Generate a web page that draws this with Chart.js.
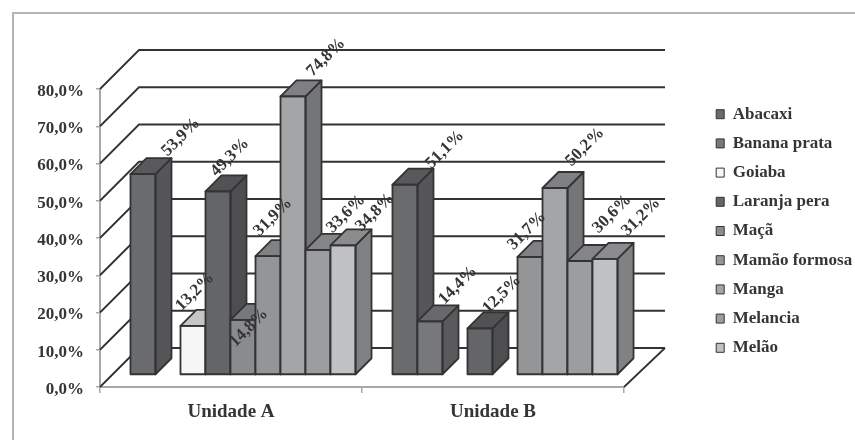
<!DOCTYPE html>
<html>
<head>
<meta charset="utf-8">
<style>
    html, body { margin: 0; padding: 0; background: #fff; }
    #wrap { width: 855px; height: 440px; position: relative; }
    #chart { filter: blur(0.4px); }
</style>
</head>
<body>
<div id="wrap"><canvas id="chart" width="855" height="440"></canvas></div>
<script src="https://cdn.jsdelivr.net/npm/chart.js@4"></script>
<script>
const units = ['Unidade A', 'Unidade B'];
const yTicks = [0, 10, 20, 30, 40, 50, 60, 70, 80];

const abacaxi = [53.9, 51.1];
const bananaPrata = [null, 14.4];
const goiaba = [13.2, null];
const laranjaPera = [49.3, 12.5];
const maca = [14.8, null];
const mamaoFormosa = [31.9, 31.7];
const manga = [74.8, 50.2];
const melancia = [33.6, 30.6];
const melao = [34.8, 31.2];

const fruits = [
    { label: 'Abacaxi', data: abacaxi, front: '#6a6b6d', side: '#565658', top: '#59595b' },
    { label: 'Banana prata', data: bananaPrata, front: '#77787a', side: '#5a5a5c', top: '#69696b' },
    { label: 'Goiaba', data: goiaba, front: '#f6f6f6', side: '#9a9a9a', top: '#c6c6c6' },
    { label: 'Laranja pera', data: laranjaPera, front: '#646567', side: '#4e4e50', top: '#525254' },
    { label: 'Maçã', data: maca, front: '#8a8b8d', side: '#6d6e70', top: '#77787a' },
    { label: 'Mamão formosa', data: mamaoFormosa, front: '#949597', side: '#747577', top: '#808183' },
    { label: 'Manga', data: manga, front: '#a4a5a7', side: '#747577', top: '#7f8082' },
    { label: 'Melancia', data: melancia, front: '#9c9d9f', side: '#767779', top: '#848587' },
    { label: 'Melão', data: melao, front: '#c0c1c3', side: '#808183', top: '#8b8c8e' }
];

// hand placed data labels, dx/dy from the top of each bar (per unit)
const labelNudge = [
    [[38, -37], [40, -35]],
    [[0, 0], [28, -36]],
    [[2, -34], [0, 0]],
    [[12, -34], [22, -34]],
    [[6, 8], [0, 0]],
    [[5, -39], [-3, -26]],
    [[33, -39], [30, -41]],
    [[28, -36], [32, -47]],
    [[32, -33], [36, -42]]
];

const INK = '#333335';
const AXIS = '#a8a8a8';
const TEXT = '#353537';
const SERIF = '"Liberation Serif", serif';
const WALL = 39;     // depth of the floor and walls
const NEAR = 12;     // where the bars start inside the floor
const BAR_DEPTH = 16;

function drawBarFaces(ctx, bar, ds) {
    const d = BAR_DEPTH;
    const l = bar.x - bar.width / 2;
    const r = bar.x + bar.width / 2;
    const t = bar.y;
    const b = bar.base;
    ctx.fillStyle = ds.sideColor;
    ctx.beginPath();
    ctx.moveTo(r, t);
    ctx.lineTo(r + d, t - d);
    ctx.lineTo(r + d, b - d);
    ctx.lineTo(r, b);
    ctx.closePath();
    ctx.fill();
    ctx.stroke();
    ctx.fillStyle = ds.topColor;
    ctx.beginPath();
    ctx.moveTo(l, t);
    ctx.lineTo(l + d, t - d);
    ctx.lineTo(r + d, t - d);
    ctx.lineTo(r, t);
    ctx.closePath();
    ctx.fill();
    ctx.stroke();
    ctx.strokeRect(l, t, bar.width, b - t);
}

const box3d = {
    id: 'box3d',
    beforeDatasetsDraw(chart) {
        const { ctx, chartArea: a, scales: { y } } = chart;
        ctx.save();
        ctx.strokeStyle = INK;
        ctx.lineWidth = 1.8;
        yTicks.forEach(t => {
            const py = y.getPixelForValue(t);
            ctx.beginPath();
            ctx.moveTo(a.left, py);
            ctx.lineTo(a.left + WALL, py - WALL);
            ctx.lineTo(a.right + WALL + 2, py - WALL);
            ctx.stroke();
        });
        // right edge of the floor
        ctx.beginPath();
        ctx.moveTo(a.right, a.bottom);
        ctx.lineTo(a.right + WALL + 2, a.bottom - WALL);
        ctx.stroke();
        ctx.restore();
    },
    // chart.js paints datasets last to first, these boxes have to stack first to last
    beforeDatasetDraw() {
        return false;
    },
    afterDatasetsDraw(chart) {
        const { ctx } = chart;
        ctx.save();
        // bars sit a bit behind the front edge of the floor
        ctx.translate(NEAR, -NEAR);
        chart.data.datasets.forEach((ds, k) => {
            const meta = chart.getDatasetMeta(k);
            meta.controller.draw();
            ctx.save();
            ctx.strokeStyle = INK;
            ctx.lineWidth = 1.8;
            ctx.lineJoin = 'round';
            meta.data.forEach((bar, i) => {
                if (ds.data[i] !== null) drawBarFaces(ctx, bar, ds);
            });
            ctx.restore();
        });
        ctx.restore();

        ctx.save();
        ctx.font = 'bold 17px ' + SERIF;
        ctx.fillStyle = TEXT;
        ctx.textAlign = 'center';
        ctx.textBaseline = 'middle';
        chart.data.datasets.forEach((ds, k) => {
            chart.getDatasetMeta(k).data.forEach((bar, i) => {
                if (ds.data[i] === null) return;
                const n = labelNudge[k][i];
                ctx.save();
                ctx.translate(bar.x + NEAR + n[0], bar.y - NEAR + n[1]);
                ctx.rotate(-Math.PI / 4);
                ctx.fillText(ds.data[i].toFixed(1).replace('.', ',') + '%', 0, 0);
                ctx.restore();
            });
        });
        ctx.restore();
    },
    afterLayout(chart) {
        // legend goes in the right margin, outside the plot
        const lg = chart.legend;
        const w = lg.width, h = lg.height;
        lg.left = 704;
        lg.right = 704 + w;
        lg.top = 93.5;
        lg.bottom = 93.5 + h;
    }
};

// outer frame: only the top and left are visible in the scan
const frame = {
    id: 'frame',
    beforeDraw(chart) {
        const { ctx } = chart;
        ctx.save();
        ctx.strokeStyle = '#b4b4b4';
        ctx.lineWidth = 2;
        ctx.beginPath();
        ctx.moveTo(13, 440);
        ctx.lineTo(13, 13);
        ctx.lineTo(855, 13);
        ctx.stroke();
        ctx.restore();
    }
};

new Chart(document.getElementById('chart'), {
    type: 'bar',
    data: {
        labels: units,
        datasets: fruits.map(f => ({
            label: f.label,
            data: f.data,
            backgroundColor: f.front,
            borderColor: INK,
            borderWidth: 0,
            sideColor: f.side,
            topColor: f.top,
            barPercentage: 1,
            categoryPercentage: 0.859
        }))
    },
    plugins: [frame, box3d],
    options: {
        responsive: false,
        animation: false,
        clip: false,
        layout: { padding: { left: 0, right: 231, top: 89, bottom: 0 } },
        plugins: {
            legend: {
                position: 'chartArea',
                align: 'start',
                labels: {
                    color: TEXT,
                    font: { family: SERIF, size: 17, weight: 'bold' },
                    boxWidth: 8,
                    boxHeight: 9,
                    padding: 12.2,
                    generateLabels(chart) {
                        return chart.data.datasets.map((ds, i) => ({
                            text: ds.label,
                            fillStyle: ds.backgroundColor,
                            strokeStyle: INK,
                            lineWidth: 1,
                            fontColor: TEXT,
                            datasetIndex: i
                        }));
                    }
                }
            },
            tooltip: { enabled: false }
        },
        scales: {
            x: {
                offset: true,
                afterFit(s) { s.height = 53; },
                border: { color: AXIS, width: 2 },
                grid: { offset: true, drawOnChartArea: false, color: AXIS, lineWidth: 1.5, tickLength: 6 },
                ticks: {
                    color: TEXT,
                    padding: 8,
                    font: { family: SERIF, size: 19, weight: 'bold' },
                    maxRotation: 0
                }
            },
            y: {
                min: 0,
                max: 80,
                afterFit(s) { s.width = 100; },
                afterBuildTicks(s) { s.ticks = yTicks.map(v => ({ value: v })); },
                border: { color: AXIS, width: 2 },
                grid: { drawOnChartArea: false, color: AXIS, lineWidth: 1.5, tickLength: 4 },
                ticks: {
                    color: TEXT,
                    padding: 12,
                    labelOffset: 2.5,
                    font: { family: SERIF, size: 17, weight: 'bold' },
                    callback: v => v.toFixed(1).replace('.', ',') + '%'
                }
            }
        }
    }
});
</script>
</body>
</html>
